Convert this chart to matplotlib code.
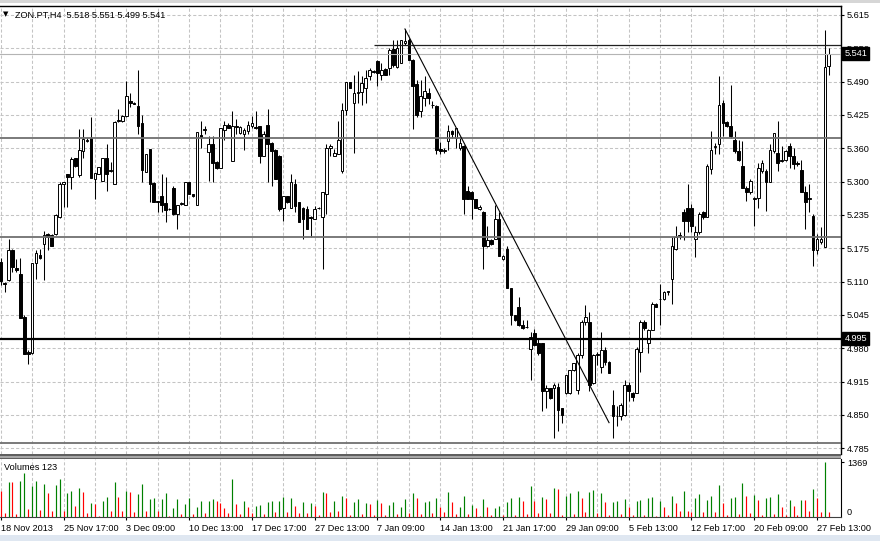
import matplotlib
matplotlib.use("Agg")
import matplotlib.pyplot as plt
import matplotlib.transforms as mtransforms
from matplotlib.patches import Rectangle
import numpy as np

plt.rcParams['font.family'] = ['Liberation Sans', 'DejaVu Sans']

# ---------------- data ----------------
symbol = "ZON.PT,H4"

opens = [
5.142,5.101,5.107,5.164,5.130,5.118,5.037,4.970,4.967,5.139,
5.156,5.177,5.196,5.193,5.195,5.228,5.292,5.310,5.304,5.340,
5.308,5.355,5.374,5.380,5.301,5.311,5.296,5.340,5.316,5.291,
5.412,5.412,5.421,5.450,5.447,5.440,5.407,5.315,5.359,5.293,
5.258,5.269,5.254,5.244,5.283,5.234,5.253,5.250,5.294,5.271,
5.251,5.384,5.395,5.352,5.367,5.333,5.322,5.395,5.405,5.335,
5.402,5.389,5.386,5.392,5.402,5.401,5.402,5.345,5.405,5.370,
5.357,5.345,5.246,5.268,5.246,5.291,5.256,5.246,5.243,5.227,
5.224,5.246,5.227,5.272,5.361,5.345,5.348,5.316,5.433,5.487,
5.446,5.466,5.468,5.475,5.497,5.507,5.526,5.500,5.511,5.513,
5.549,5.516,5.522,5.561,5.567,5.529,5.482,5.430,5.456,5.466,
5.443,5.440,5.358,5.355,5.373,5.392,5.380,5.360,5.364,5.278,
5.276,5.262,5.243,5.238,5.173,5.183,5.186,5.224,5.148,5.167,
5.091,5.040,5.056,5.021,5.017,4.976,5.005,4.986,4.986,4.894,
4.900,4.900,4.903,4.862,4.891,4.891,4.935,4.897,4.964,5.027,
5.026,4.910,4.964,4.940,4.973,4.951,4.868,4.846,4.846,4.849,
4.906,4.890,4.891,4.970,5.027,4.986,5.011,5.062,5.070,5.071,
5.085,5.110,5.167,5.192,5.237,5.246,5.246,5.186,5.199,5.237,
5.227,5.319,5.362,5.367,5.446,5.410,5.403,5.376,5.354,5.325,
5.284,5.275,5.263,5.265,5.316,5.316,5.294,5.354,5.351,5.336,
5.338,5.364,5.345,5.331,5.318,5.275,5.262,5.230,5.164,5.180,
5.170,5.518]

highs = [
5.150,5.104,5.186,5.166,5.148,5.150,5.040,4.973,5.139,5.164,
5.166,5.202,5.197,5.195,5.233,5.294,5.295,5.311,5.342,5.341,
5.396,5.396,5.380,5.420,5.313,5.323,5.340,5.367,5.333,5.411,
5.435,5.423,5.488,5.466,5.449,5.510,5.424,5.348,5.359,5.294,
5.259,5.310,5.304,5.245,5.288,5.250,5.256,5.294,5.294,5.272,
5.390,5.412,5.402,5.383,5.383,5.335,5.399,5.411,5.407,5.430,
5.416,5.403,5.399,5.411,5.421,5.430,5.403,5.392,5.434,5.371,
5.358,5.346,5.268,5.269,5.310,5.300,5.257,5.247,5.249,5.230,
5.249,5.247,5.275,5.367,5.367,5.358,5.411,5.446,5.487,5.487,
5.500,5.507,5.497,5.510,5.513,5.510,5.529,5.523,5.513,5.551,
5.567,5.567,5.567,5.588,5.570,5.530,5.490,5.490,5.497,5.475,
5.450,5.442,5.372,5.360,5.405,5.395,5.399,5.382,5.365,5.288,
5.277,5.263,5.250,5.240,5.211,5.186,5.251,5.237,5.156,5.173,
5.092,5.041,5.075,5.030,5.030,5.008,5.014,4.995,4.987,4.906,
4.901,4.910,4.910,4.863,4.926,4.935,4.948,4.967,5.030,5.059,
5.046,4.966,4.970,5.008,4.979,4.952,4.897,4.865,4.872,4.916,
4.912,4.893,4.979,5.030,5.030,5.014,5.065,5.064,5.100,5.087,
5.087,5.189,5.211,5.200,5.243,5.291,5.253,5.211,5.237,5.240,
5.329,5.392,5.370,5.497,5.452,5.412,5.481,5.392,5.376,5.373,
5.287,5.300,5.267,5.331,5.338,5.319,5.367,5.389,5.411,5.364,
5.357,5.370,5.361,5.335,5.338,5.288,5.291,5.234,5.196,5.208,
5.586,5.551]

lows = [
5.098,5.085,5.105,5.123,5.123,5.035,4.965,4.946,4.965,5.110,
5.148,5.107,5.164,5.172,5.193,5.226,5.247,5.247,5.282,5.324,
5.304,5.340,5.372,5.302,5.263,5.310,5.296,5.278,5.314,5.291,
5.410,5.410,5.420,5.438,5.444,5.386,5.294,5.314,5.256,5.257,
5.238,5.237,5.219,5.241,5.231,5.205,5.251,5.250,5.272,5.267,
5.251,5.360,5.386,5.297,5.294,5.320,5.322,5.376,5.398,5.335,
5.386,5.386,5.357,5.386,5.398,5.397,5.332,5.345,5.294,5.287,
5.300,5.240,5.221,5.255,5.246,5.237,5.218,5.186,5.205,5.189,
5.224,5.243,5.129,5.233,5.345,5.345,5.348,5.313,5.424,5.475,
5.351,5.446,5.443,5.446,5.491,5.504,5.478,5.491,5.499,5.500,
5.516,5.513,5.522,5.558,5.529,5.396,5.420,5.420,5.440,5.445,
5.437,5.348,5.348,5.350,5.357,5.380,5.361,5.357,5.234,5.262,
5.224,5.246,5.241,5.129,5.171,5.174,5.186,5.154,5.146,5.091,
5.021,5.028,5.020,5.014,5.015,4.916,4.980,4.964,4.856,4.862,
4.880,4.805,4.818,4.833,4.889,4.888,4.933,4.888,4.957,5.021,
4.894,4.908,4.945,4.929,4.945,4.929,4.805,4.827,4.840,4.846,
4.875,4.875,4.891,4.932,5.012,4.967,5.011,5.055,5.021,5.068,
5.079,5.062,5.164,5.186,5.183,5.199,5.199,5.151,5.196,5.225,
5.227,5.310,5.348,5.348,5.383,5.400,5.380,5.351,5.335,5.284,
5.259,5.272,5.211,5.246,5.313,5.240,5.294,5.351,5.316,5.334,
5.335,5.322,5.319,5.325,5.275,5.205,5.237,5.135,5.157,5.177,
5.170,5.499]

closes = [
5.105,5.099,5.164,5.132,5.126,5.035,4.966,4.966,5.139,5.158,
5.150,5.193,5.190,5.173,5.231,5.291,5.294,5.304,5.339,5.325,
5.357,5.377,5.376,5.302,5.313,5.323,5.340,5.310,5.318,5.409,
5.414,5.421,5.459,5.446,5.445,5.402,5.317,5.348,5.291,5.257,
5.256,5.250,5.242,5.243,5.234,5.250,5.255,5.294,5.272,5.269,
5.390,5.382,5.397,5.367,5.331,5.322,5.399,5.405,5.399,5.402,
5.401,5.400,5.395,5.405,5.408,5.399,5.345,5.386,5.367,5.354,
5.300,5.243,5.268,5.256,5.294,5.249,5.218,5.224,5.205,5.226,
5.243,5.245,5.275,5.360,5.363,5.351,5.376,5.433,5.487,5.475,
5.465,5.468,5.484,5.494,5.510,5.506,5.503,5.510,5.500,5.548,
5.519,5.551,5.566,5.565,5.529,5.479,5.424,5.460,5.469,5.456,
5.442,5.357,5.354,5.356,5.392,5.386,5.399,5.370,5.262,5.262,
5.262,5.246,5.248,5.173,5.183,5.176,5.224,5.154,5.154,5.091,
5.040,5.030,5.021,5.016,5.018,4.998,4.983,4.967,4.894,4.900,
4.881,4.906,4.859,4.849,4.926,4.935,4.948,4.964,5.027,5.037,
4.906,4.964,4.966,4.973,4.951,4.929,4.846,4.847,4.868,4.906,
4.894,4.884,4.976,5.027,5.015,5.011,5.062,5.056,5.071,5.084,
5.086,5.173,5.189,5.193,5.221,5.221,5.211,5.199,5.234,5.227,
5.326,5.357,5.364,5.443,5.408,5.403,5.383,5.354,5.338,5.284,
5.275,5.297,5.265,5.322,5.331,5.294,5.357,5.389,5.332,5.338,
5.354,5.345,5.329,5.330,5.275,5.256,5.265,5.164,5.186,5.186,
5.516,5.541]

volumes = [
659,101,887,887,68,904,1098,186,786,904,
169,820,608,144,803,955,144,608,650,279,
735,634,85,338,313,25,406,507,152,887,
507,152,659,617,110,566,820,144,439,482,
144,456,608,25,211,439,68,313,482,68,
237,406,101,406,450,400,355,211,85,955,
313,68,406,237,85,279,290,68,363,406,
110,406,507,110,482,270,100,363,101,338,
279,42,634,608,127,406,144,532,482,42,
363,439,59,338,313,42,422,338,42,296,
363,68,253,448,85,591,482,68,380,400,
85,482,237,110,634,363,68,253,532,68,
296,211,17,448,237,42,211,279,42,363,
465,42,507,406,68,786,406,85,507,439,
85,735,701,42,532,591,68,659,482,127,
617,676,101,608,363,42,380,390,68,448,
237,42,406,415,42,482,490,25,397,237,
42,524,338,144,659,150,127,465,566,127,
422,532,127,803,338,42,482,490,60,862,
532,85,549,422,42,482,507,59,575,253,
42,422,279,42,422,410,144,701,482,110,
1369,123]

date_labels = ["18 Nov 2013", "25 Nov 17:00", "3 Dec 09:00", "10 Dec 13:00",
               "17 Dec 17:00", "27 Dec 13:00", "7 Jan 09:00", "14 Jan 13:00",
               "21 Jan 17:00", "29 Jan 09:00", "5 Feb 13:00", "12 Feb 17:00",
               "20 Feb 09:00", "27 Feb 13:00"]
label_every = 16
grid_every = 8

price_tick_labels = ["5.615", "5.550", "5.490", "5.425", "5.360", "5.300", "5.235",
                     "5.175", "5.110", "5.045", "4.980", "4.915", "4.850", "4.785"]
price_top, price_bottom = 5.615, 4.785
vol_tick = 1369

gray_levels = [5.379, 5.189, 4.796]
key_level = 4.995
resistance_level = 5.557
resistance_from = 95
trend_start = (103, 5.588)
trend_end = (155, 4.834)

# ---------------- layout ----------------
W, H = 880, 541
fig = plt.figure(figsize=(W / 100, H / 100), dpi=100)
fig.patch.set_facecolor('white')

def rect(x0, y0, x1, y1):
    return [x0 / W, 1 - y1 / H, (x1 - x0) / W, (y1 - y0) / H]

ax = fig.add_axes(rect(0, 6, 841, 454))
axv = fig.add_axes(rect(0, 459, 841, 516.7))

n = len(opens)
idx = np.arange(n)
o = np.array(opens); h = np.array(highs); l = np.array(lows); c = np.array(closes)
xlim = (-0.18, 214.1)
for a in (ax, axv):
    a.set_xlim(*xlim)
    a.set_facecolor('white')

ax.set_ylim(4.774, 5.632)

grid_kw = dict(color='#c4c4c4', lw=0.75, ls=(0, (3, 2)), zorder=1)
for g in np.arange(0, n + grid_every, grid_every):
    ax.axvline(g, **grid_kw)
    axv.axvline(g, **grid_kw)
price_ticks = np.linspace(price_top, price_bottom, len(price_tick_labels))
for p in price_ticks:
    ax.axhline(p, **grid_kw)

# candles
up = c >= o
ax.vlines(idx, l, h, color='black', lw=0.75, zorder=3)
lo = np.minimum(o, c)
hh = np.abs(c - o)
ax.bar(idx[up], hh[up], bottom=lo[up], width=0.68, facecolor='white',
       edgecolor='black', linewidth=0.7, zorder=4)
ax.bar(idx[~up], hh[~up], bottom=lo[~up], width=0.68, facecolor='black',
       edgecolor='black', linewidth=0.7, zorder=4)

# objects
for lv in gray_levels:
    ax.axhline(lv, color='#707070', lw=1.3, zorder=5)
ax.axhline(key_level, color='black', lw=1.6, zorder=5)
ax.axhline(closes[-1], color='#b4b4b4', lw=0.8, zorder=5)
ax.hlines(resistance_level, resistance_from, xlim[1], color='#202020', lw=0.9, zorder=5)
ax.plot([trend_start[0], trend_end[0]], [trend_start[1], trend_end[1]],
        color='black', lw=0.8, zorder=5)

# axes styling
for s in ('left', 'bottom'):
    ax.spines[s].set_visible(False)
for s in ('top', 'right'):
    ax.spines[s].set_color('black')
    ax.spines[s].set_linewidth(1.0)
ax.set_xticks([])
ax.yaxis.tick_right()
ax.set_yticks(price_ticks)
ax.set_yticklabels(price_tick_labels)
ax.tick_params(axis='y', direction='out', length=2.5, width=0.8, pad=1.8,
               labelsize=6.6, colors='black')

# price label boxes
tr = mtransforms.blended_transform_factory(fig.transFigure, ax.transData)
for val in (closes[-1], key_level):
    ax.text(844.5 / W, val, f"{val:.3f}", transform=tr, color='white', fontsize=6.6,
            va='center', ha='left', zorder=10, clip_on=False,
            bbox=dict(boxstyle='square,pad=0.22', fc='black', ec='black'))

# volumes
vol = np.array(volumes)
vcol = ['#ff0000'] + ['#008000' if vol[i] > vol[i - 1] else '#ff0000' for i in range(1, n)]
axv.vlines(idx, 0, vol, colors=vcol, lw=0.85, zorder=3)
axv.set_ylim(0, 1457)
axv.spines['left'].set_visible(False)
axv.spines['top'].set_visible(False)
axv.spines['right'].set_color('black')
axv.spines['bottom'].set_color('#404040')
axv.yaxis.tick_right()
axv.set_yticks([vol_tick])
axv.set_yticklabels([str(vol_tick)])
axv.tick_params(axis='y', direction='out', length=2.5, width=0.8, pad=1.8,
                labelsize=6.6, colors='black')
trv = mtransforms.blended_transform_factory(fig.transFigure, axv.transData)
axv.text(847 / W, 0, "0", transform=trv, fontsize=6.6, va='bottom', ha='left',
         clip_on=False)
label_pos = np.arange(0, label_every * len(date_labels), label_every)
axv.set_xticks(label_pos)
axv.set_xticklabels(date_labels)
for t in axv.get_xticklabels():
    t.set_ha('left')
axv.tick_params(axis='x', direction='out', length=2.5, width=0.8, pad=2.5,
                labelsize=6.6, colors='black')

# separator band between panels
fig.patches.append(Rectangle((0, 1 - 459 / H), 841 / W, 4.5 / H, transform=fig.transFigure,
                             facecolor='#a8a8a8', edgecolor='none', zorder=0))
fig.patches.append(Rectangle((0, 1 - 455.5 / H), 841 / W, 1.2 / H, transform=fig.transFigure,
                             facecolor='#606060', edgecolor='none', zorder=0))
fig.patches.append(Rectangle((0, 1 - 459.2 / H), 841 / W, 1.2 / H, transform=fig.transFigure,
                             facecolor='#606060', edgecolor='none', zorder=0))
# window frame strips
fig.patches.append(Rectangle((0, 0), 1, 6 / H, transform=fig.transFigure,
                             facecolor='#dfe7f1', edgecolor='none', zorder=0))
fig.patches.append(Rectangle((0, 1 - 3 / H), 1, 3 / H, transform=fig.transFigure,
                             facecolor='#d6d6d6', edgecolor='none', zorder=0))

# texts
fig.text(3 / W, 1 - 14.5 / H, "\u25bc", fontsize=5, family='DejaVu Sans',
         va='center', ha='left', color='black')
fig.text(15 / W, 1 - 15 / H,
         f"{symbol}  {opens[-1]:.3f} {highs[-1]:.3f} {lows[-1]:.3f} {closes[-1]:.3f}",
         fontsize=6.6, va='center', ha='left', color='black')
fig.text(4 / W, 1 - 467 / H, f"Volumes {volumes[-1]}", fontsize=6.6,
         va='center', ha='left', color='black')

fig.savefig("out.png", dpi=100)
